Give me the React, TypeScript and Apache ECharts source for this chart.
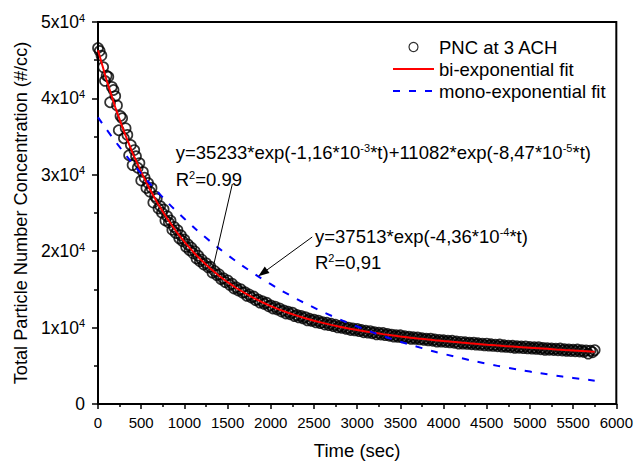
import React, { useEffect, useRef } from "react";
import * as echarts from "echarts";

const FONT = '"Liberation Sans", Arial, Helvetica, sans-serif';

// Measured particle number concentration (#/cc), sampled on two time grids (sec)
const EARLY_T0 = 0;
const EARLY_DT = 20;
const pncEarly = [
  46600, 46200, 45600, 44100, 42300, 42960, 42830, 39500, 41500, 41100,
  40300, 39080, 35830, 37700, 37400, 34780, 36100, 35220, 32560, 33900,
  31270, 33240, 32430, 30920, 31530, 29250, 30380, 29620, 28270, 28930,
  27800, 28280, 26370, 27170, 26870, 25590, 25910, 25040, 25480, 24030,
  24590, 23750, 24020, 22800, 23180, 22380, 22770, 21680, 22090, 21310,
  21530, 20560, 20890, 20130, 20480, 19730, 19990, 19050, 19420, 18690,
];
const LATE_T0 = 1200;
const LATE_DT = 25;
const pncLate = [
  18920, 18260, 18450, 17890, 17980, 17190, 17410, 16870, 16990, 16330, 16470, 15950,
  16190, 15600, 15760, 15120, 15280, 14860, 15040, 14570, 14650, 14150, 14340, 13940,
  14080, 13590, 13700, 13260, 13470, 13100, 13270, 12790, 12920, 12500, 12740, 12370,
  12510, 12100, 12250, 11850, 12090, 11750, 11960, 11510, 11670, 11330, 11540, 11210,
  11370, 10940, 11160, 10880, 11050, 10680, 10910, 10590, 10720, 10400, 10640, 10320,
  10500, 10190, 10380, 10020, 10210, 9960, 10150, 9840, 9990, 9690, 9880, 9630,
  9830, 9530, 9690, 9390, 9590, 9350, 9550, 9260, 9410, 9120, 9330, 9090,
  9300, 9010, 9170, 8930, 9090, 8810, 9020, 8780, 9000, 8710, 8880, 8650,
  8810, 8530, 8750, 8520, 8730, 8450, 8620, 8390, 8560, 8330, 8560, 8280,
  8450, 8170, 8390, 8160, 8340, 8110, 8290, 8060, 8280, 8010, 8180, 7910,
  8140, 7910, 8090, 7860, 8040, 7820, 8040, 7770, 7950, 7730, 7900, 7680,
  7910, 7640, 7820, 7600, 7780, 7560, 7790, 7510, 7690, 7470, 7650, 7430,
  7620, 7350, 7580, 7360, 7540, 7320, 7550, 7280, 7460, 7250, 7430, 7210,
  7440, 7170, 7350, 7090, 7320, 7100, 7280, 7070, 7250, 7030, 7270, 7000,
  7180, 6960, 7150, 6930, 7120, 6900, 7130, 6870, 7050, 6830, 7020, 6600,
  6990, 6770, 7060,
];

// Bi-exponential fit curve [t, value]
const biFit: [number, number][] = [
  [0, 46315], [100, 42364], [200, 38835], [300, 35683], [400, 32868], [500, 30352],
  [600, 28101], [700, 26088], [800, 24287], [900, 22675], [1000, 21228], [1100, 19933],
  [1200, 18771], [1300, 17726], [1400, 16788], [1500, 15943], [1600, 15184], [1700, 14500],
  [1800, 13882], [1900, 13323], [2000, 12817], [2100, 12359], [2200, 11944], [2300, 11566],
  [2400, 11221], [2500, 10904], [2600, 10619], [2700, 10355], [2800, 10111], [2900, 9888],
  [3000, 9681], [3100, 9490], [3200, 9312], [3300, 9147], [3400, 8992], [3500, 8847],
  [3600, 8711], [3700, 8583], [3800, 8462], [3900, 8347], [4000, 8237], [4100, 8134],
  [4200, 8035], [4300, 7939], [4400, 7849], [4500, 7760], [4600, 7676], [4700, 7594],
  [4800, 7515], [4900, 7438], [5000, 7363], [5100, 7290], [5200, 7219], [5300, 7149],
  [5400, 7081], [5500, 7015], [5600, 6950], [5700, 6885], [5750, 6855],
];

// Mono-exponential fit curve [t, value]
const monoFit: [number, number][] = [
  [0, 37513], [250, 33639], [500, 30166], [750, 27050], [1000, 24258], [1250, 21752],
  [1500, 19506], [1750, 17491], [2000, 15685], [2250, 14064], [2500, 12613], [2750, 11310],
  [3000, 10142], [3250, 9095], [3500, 8156], [3750, 7314], [4000, 6558], [4250, 5881],
  [4500, 5273], [4750, 4729], [5000, 4240], [5250, 3803], [5500, 3410], [5750, 3058],
];

const seriesNames = ["PNC at 3 ACH", "bi-exponential fit", "mono-exponential fit"];
const xRange = { min: 0, max: 6000, interval: 500 };
const yRange = { min: 0, max: 50000, interval: 10000 };

const biText = ["y=35233*exp(-1,16*10{sup|-3}*t)+11082*exp(-8,47*10{sup|-5}*t)", "R{sup|2}=0.99"];
const monoText = ["y=37513*exp(-4,36*10{sup|-4}*t)", "R{sup|2}=0,91"];
// annotation anchors in data coordinates [t, value]
const biTextAt: [number, number][] = [[900, 32980], [900, 29450]];
const biLeader: [number, number][] = [[1555, 28800], [1335, 18000]];
const monoTextAt: [number, number][] = [[2512, 21860], [2512, 18460]];
const monoArrow: [number, number][] = [[2480, 21860], [1855, 16710]];

export default function App() {
  const ref = useRef<HTMLDivElement>(null);
  useEffect(() => {
    if (!ref.current) return;
    document.body.style.margin = "0";
    const chart = echarts.init(ref.current, undefined, { renderer: "svg" });
    const pncPoints = [
      ...pncEarly.map((v, i) => [EARLY_T0 + i * EARLY_DT, v]),
      ...pncLate.map((v, i) => [LATE_T0 + i * LATE_DT, v]),
    ];
    const sup = { fontSize: 11, lineHeight: 6, verticalAlign: "top" as const, fontFamily: FONT, color: "#000" };
    const hiddenSymbol = { opacity: 0, color: "rgba(0,0,0,0)", borderColor: "rgba(0,0,0,0)", borderWidth: 0 };
    chart.setOption({
      animation: false,
      backgroundColor: "#fff",
      grid: { left: 98, right: 17, top: 22, bottom: 63, show: true, borderColor: "#000", borderWidth: 2, backgroundColor: "transparent" },
      legend: {
        orient: "vertical",
        left: 387,
        top: 32,
        itemWidth: 41,
        itemHeight: 9,
        itemGap: 2,
        data: [
          { name: seriesNames[0], itemStyle: { color: "#fff", borderColor: "#000", borderWidth: 1.2 } },
          { name: seriesNames[1], itemStyle: hiddenSymbol },
          { name: seriesNames[2], itemStyle: hiddenSymbol },
        ],
        textStyle: { fontSize: 18.5, fontFamily: FONT, color: "#000", lineHeight: 20 },
      },
      xAxis: {
        type: "value",
        min: xRange.min,
        max: xRange.max,
        interval: xRange.interval,
        name: "Time (sec)",
        nameLocation: "middle",
        nameGap: 37,
        nameTextStyle: { fontSize: 18.5, fontFamily: FONT, color: "#000" },
        axisLine: { show: true, onZero: false, lineStyle: { color: "#000", width: 2 } },
        axisTick: { show: true, inside: false, length: 5, lineStyle: { color: "#000", width: 1.5 } },
        minorTick: { show: true, splitNumber: 2, length: 3, lineStyle: { color: "#000", width: 1.5 } },
        splitLine: { show: false },
        axisLabel: { fontSize: 15, fontFamily: FONT, color: "#000", margin: 11, formatter: (v: number) => String(v) },
      },
      yAxis: {
        type: "value",
        min: yRange.min,
        max: yRange.max,
        interval: yRange.interval,
        name: "Total Particle Number Concentration (#/cc)",
        nameLocation: "middle",
        nameRotate: 90,
        nameGap: 62,
        nameTruncate: { maxWidth: 600 },
        nameTextStyle: { fontSize: 18.2, fontFamily: FONT, color: "#000", width: 600, overflow: "none" },
        axisLine: { show: true, onZero: false, lineStyle: { color: "#000", width: 2 } },
        axisTick: { show: true, inside: false, length: 6, lineStyle: { color: "#000", width: 1.5 } },
        minorTick: { show: true, splitNumber: 2, length: 4, lineStyle: { color: "#000", width: 1.5 } },
        splitLine: { show: false },
        axisLabel: {
          fontSize: 17.5,
          fontFamily: FONT,
          color: "#000",
          margin: 13,
          lineHeight: 20,
          formatter: (v: number) => (v === 0 ? "0" : `${v / 10000}x10{sup|4}`),
          rich: { sup },
        },
      },
      series: [
        {
          name: seriesNames[0],
          type: "scatter",
          data: pncPoints,
          symbol: "circle",
          symbolSize: 10,
          itemStyle: { color: "rgba(255,255,255,0)", borderColor: "#000", borderWidth: 1.7 },
          z: 2,
          silent: true,
        },
        {
          name: seriesNames[1],
          type: "line",
          data: biFit,
          symbol: "none",
          lineStyle: { color: "#ff0000", width: 2 },
          itemStyle: { color: "#ff0000" },
          z: 4,
          silent: true,
        },
        {
          name: seriesNames[2],
          type: "line",
          data: monoFit,
          smooth: true,
          symbol: "none",
          lineStyle: { color: "#0000ff", width: 2, type: [7, 9] },
          itemStyle: { color: "#0000ff" },
          z: 4,
          silent: true,
        },
      ],
    });

    const px = (p: [number, number]) => chart.convertToPixel({ gridIndex: 0 }, p) as number[];
    const textEl = (txt: string, at: [number, number]) => {
      const [x, y] = px(at);
      return {
        type: "text",
        x,
        y,
        z: 10,
        style: {
          text: txt,
          fontSize: 18.5,
          fontFamily: FONT,
          fill: "#000",
          lineHeight: 20,
          align: "left",
          verticalAlign: "middle",
          rich: { sup: { fontSize: 11, lineHeight: 6, verticalAlign: "top", fontFamily: FONT, fill: "#000" } },
        },
      };
    };
    const l1a = px(biLeader[0]);
    const l1b = px(biLeader[1]);
    const a1 = px(monoArrow[0]);
    const a2 = px(monoArrow[1]);
    const dx = a2[0] - a1[0];
    const dy = a2[1] - a1[1];
    const len = Math.hypot(dx, dy);
    const ux = dx / len;
    const uy = dy / len;
    const headL = 11;
    const headW = 4;
    const bx = a2[0] - ux * headL;
    const by = a2[1] - uy * headL;
    chart.setOption({
      graphic: [
        textEl(biText[0], biTextAt[0]),
        textEl(biText[1], biTextAt[1]),
        textEl(monoText[0], monoTextAt[0]),
        textEl(monoText[1], monoTextAt[1]),
        {
          type: "line",
          z: 10,
          shape: { x1: l1a[0], y1: l1a[1], x2: l1b[0], y2: l1b[1] },
          style: { stroke: "#000", lineWidth: 1 },
        },
        {
          type: "line",
          z: 10,
          shape: { x1: a1[0], y1: a1[1], x2: bx + ux * 3, y2: by + uy * 3 },
          style: { stroke: "#000", lineWidth: 1 },
        },
        {
          type: "polygon",
          z: 10,
          shape: {
            points: [
              [a2[0], a2[1]],
              [bx - uy * headW, by + ux * headW],
              [bx + uy * headW, by - ux * headW],
            ],
          },
          style: { fill: "#000" },
        },
      ],
    });
    return () => chart.dispose();
  }, []);
  return <div ref={ref} style={{ position: "fixed", left: 0, top: 0, width: 636, height: 467 }} />;
}
